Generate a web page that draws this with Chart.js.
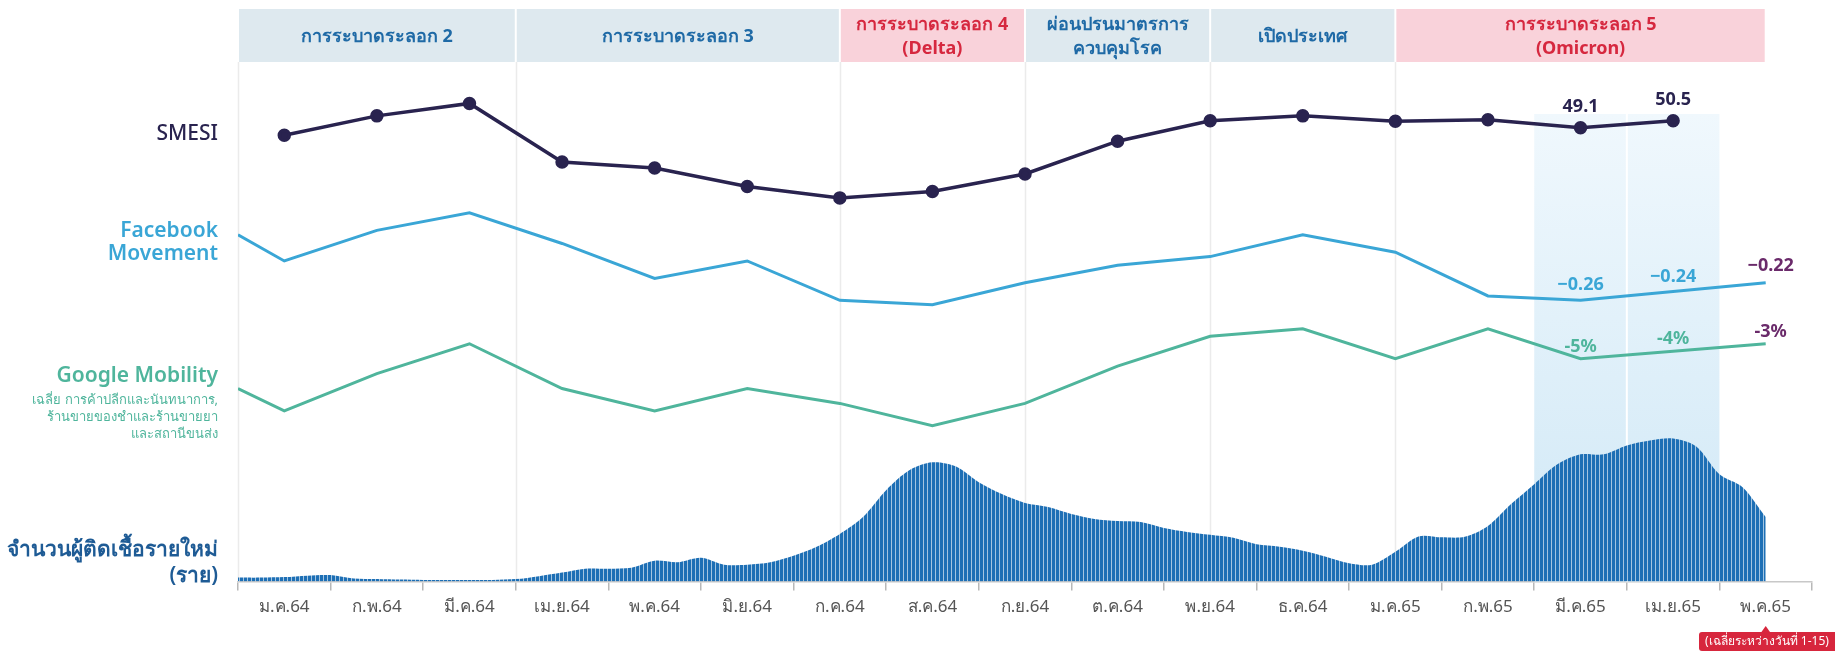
<!DOCTYPE html>
<html>
<head>
<meta charset="utf-8">
<script src="https://cdn.jsdelivr.net/npm/chart.js@4.4.1/dist/chart.umd.min.js"></script>
<style>
  html, body { margin: 0; padding: 0; background: #fff; }
  #wrap { width: 1835px; height: 651px; }
</style>
</head>
<body>
<div id="wrap"><canvas id="chart" width="1835" height="651"></canvas></div>
<script>
// ===== data =====
const MONTHS = ['ม.ค.64', 'ก.พ.64', 'มี.ค.64', 'เม.ย.64', 'พ.ค.64', 'มิ.ย.64', 'ก.ค.64', 'ส.ค.64', 'ก.ย.64',
    'ต.ค.64', 'พ.ย.64', 'ธ.ค.64', 'ม.ค.65', 'ก.พ.65', 'มี.ค.65', 'เม.ย.65', 'พ.ค.65'];

// SMESI, monthly (ม.ค.64 - เม.ย.65)
const SMESI = [47.6, 51.5, 54.0, 42.2, 41.0, 37.3, 35.0, 36.3, 39.8, 46.4, 50.5, 51.5, 50.4, 50.7, 49.1, 50.5];

// Facebook Movement, value at the start of ม.ค.64 then monthly (ม.ค.64 - พ.ค.65)
const FB_START = -0.11;
const FACEBOOK = [-0.17, -0.10, -0.06, -0.13, -0.21, -0.17, -0.26, -0.27, -0.22, -0.18, -0.16, -0.11,
    -0.15, -0.25, -0.26, -0.24, -0.22];

// Google Mobility (%), same layout as Facebook
const GM_START = -9;
const GOOGLE = [-12, -7, -3, -9, -12, -9, -11, -14, -11, -6, -2, -1, -5, -1, -5, -4, -3];

// new cases per day, sampled every quarter month from 1 ม.ค.64
const CASES_STEP = 0.25;
const CASES = [700, 700, 790, 1050, 1140, 530, 440, 350, 300, 300, 300, 300,
    440, 960, 1580, 2280, 2280, 2450, 3680, 3410, 4200, 2980, 2980, 3410,
    4550, 6130, 8400, 11380, 16100, 19600, 21000, 20300, 17500, 15400, 13830, 13130,
    11900, 11030, 10680, 10500, 9450, 8750, 8230, 7700, 6560, 6130, 5430, 4380,
    3240, 2980, 5250, 7960, 7790, 7880, 9800, 13650, 17150, 20650, 22400, 22400,
    23980, 24850, 25200, 23800, 18900, 16630, 11380];

// periods (month units from 1 ม.ค.64)
const PERIODS = [
    { from: 0, to: 3, text: ['การระบาดระลอก 2'], hot: false },
    { from: 3, to: 6.5, text: ['การระบาดระลอก 3'], hot: false },
    { from: 6.5, to: 8.5, text: ['การระบาดระลอก 4', '(Delta)'], hot: true },
    { from: 8.5, to: 10.5, text: ['ผ่อนปรนมาตรการ', 'ควบคุมโรค'], hot: false },
    { from: 10.5, to: 12.5, text: ['เปิดประเทศ'], hot: false },
    { from: 12.5, to: 16.5, text: ['การระบาดระลอก 5', '(Omicron)'], hot: true },
];
const SHADE_FROM = 14, SHADE_TO = 16;

const FONT = "'Noto Sans', 'DejaVu Sans', sans-serif";
const NAVY = '#29234f', FB_BLUE = '#3aa6d6', TEAL = '#4fb59c', CASE_BLUE = '#1d6fb5', PURPLE = '#6a2a6a';

const monthPts = (arr, start) => {
    const pts = arr.map((v, i) => ({ x: i + 0.5, y: v }));
    if (start !== undefined) pts.unshift({ x: 0, y: start });
    return pts;
};

function stripePattern(ctx) {
    const c = document.createElement('canvas');
    c.width = 4; c.height = 4;
    const p = c.getContext('2d');
    p.fillStyle = CASE_BLUE; p.fillRect(0, 0, 4, 4);
    p.fillStyle = 'rgba(255,255,255,0.6)'; p.fillRect(3, 0, 1, 4);
    return ctx.createPattern(c, 'repeat');
}

// ===== plugins =====
const backdrop = {
    id: 'backdrop',
    beforeDatasetsDraw(chart) {
        const { ctx, chartArea: a, scales: { x } } = chart;
        ctx.save();
        // omicron highlight
        const top = 114;
        const s0 = x.getPixelForValue(SHADE_FROM), s1 = x.getPixelForValue(SHADE_TO);
        const g = ctx.createLinearGradient(0, top, 0, a.bottom);
        g.addColorStop(0, '#f0f8fd');
        g.addColorStop(1, '#d0e8f6');
        ctx.fillStyle = g;
        ctx.fillRect(s0, top, s1 - s0, a.bottom - top);
        ctx.strokeStyle = '#ffffff'; ctx.lineWidth = 2;
        const sm = x.getPixelForValue((SHADE_FROM + SHADE_TO) / 2);
        ctx.beginPath(); ctx.moveTo(sm, top); ctx.lineTo(sm, a.bottom); ctx.stroke();

        // period separators
        ctx.strokeStyle = '#ebebeb'; ctx.lineWidth = 1.5;
        PERIODS.forEach(p => {
            const px = Math.round(x.getPixelForValue(p.from)) + 0.5;
            ctx.beginPath(); ctx.moveTo(px, 62); ctx.lineTo(px, a.bottom); ctx.stroke();
        });

        // header band
        ctx.textAlign = 'center'; ctx.textBaseline = 'middle';
        ctx.font = `bold 18px ${FONT}`;
        PERIODS.forEach(p => {
            const l = x.getPixelForValue(p.from) + 1, r = x.getPixelForValue(p.to) - 1;
            ctx.fillStyle = p.hot ? '#f9d2da' : '#dee9ef';
            ctx.fillRect(l, 9, r - l, 53);
            ctx.fillStyle = p.hot ? '#d6283f' : '#1f6aa6';
            const cx = (l + r) / 2;
            if (p.text.length === 1) ctx.fillText(p.text[0], cx, 37);
            else { ctx.fillText(p.text[0], cx, 25); ctx.fillText(p.text[1], cx, 49); }
        });
        ctx.restore();
    },
    afterDatasetsDraw(chart) {
        const { ctx, scales } = chart;
        const { x } = scales;
        ctx.save();
        ctx.textAlign = 'center'; ctx.textBaseline = 'middle';

        // value labels
        const tag = (axis, xv, yv, text, color, dy, dx = 0) => {
            ctx.fillStyle = color;
            ctx.fillText(text, x.getPixelForValue(xv) + dx, scales[axis].getPixelForValue(yv) + dy);
        };
        ctx.font = `bold 18px ${FONT}`;
        [14, 15].forEach(i => tag('ySmesi', i + 0.5, SMESI[i], SMESI[i].toFixed(1), NAVY, -21));
        [14, 15, 16].forEach(i => tag('yFb', i + 0.5, FACEBOOK[i], '−' + Math.abs(FACEBOOK[i]).toFixed(2),
            i === 16 ? PURPLE : FB_BLUE, i === 16 ? -17 : -15, i === 16 ? 5 : 0));
        [14, 15, 16].forEach(i => tag('yGm', i + 0.5, GOOGLE[i], '-' + Math.abs(GOOGLE[i]) + '%',
            i === 16 ? PURPLE : TEAL, -12, i === 16 ? 5 : 0));

        // series titles on the left
        ctx.textAlign = 'right';
        ctx.fillStyle = NAVY; ctx.font = `500 21px ${FONT}`;
        ctx.fillText('SMESI', 218, 134);
        ctx.fillStyle = FB_BLUE; ctx.font = `600 21px ${FONT}`;
        ctx.fillText('Facebook', 218, 231);
        ctx.fillText('Movement', 218, 254);
        ctx.fillStyle = TEAL; ctx.font = `600 21px ${FONT}`;
        ctx.fillText('Google Mobility', 218, 376);
        ctx.font = `13px ${FONT}`;
        ctx.fillText('เฉลี่ย การค้าปลีกและนันทนาการ,', 218, 400);
        ctx.fillText('ร้านขายของชำและร้านขายยา', 218, 417);
        ctx.fillText('และสถานีขนส่ง', 218, 434);
        ctx.fillStyle = '#1e5b95'; ctx.font = `600 21px ${FONT}`;
        ctx.fillText('จำนวนผู้ติดเชื้อรายใหม่', 218, 550);
        ctx.fillText('(ราย)', 218, 576);

        // note under the last month
        const nx = x.getPixelForValue(16.5);
        ctx.fillStyle = '#d7263d';
        ctx.beginPath(); ctx.moveTo(nx - 5, 633); ctx.lineTo(nx, 626); ctx.lineTo(nx + 5, 633); ctx.fill();
        ctx.beginPath(); ctx.roundRect(1699, 632, 150, 19, 3); ctx.fill();
        ctx.fillStyle = '#ffffff'; ctx.textAlign = 'center'; ctx.font = `12px ${FONT}`;
        ctx.fillText('(เฉลี่ยระหว่างวันที่ 1-15)', 1767, 642);
        ctx.restore();
    }
};

// ===== chart =====
const ctx = document.getElementById('chart').getContext('2d');
new Chart(ctx, {
    type: 'line',
    data: {
        datasets: [
            {
                label: 'SMESI', data: monthPts(SMESI), yAxisID: 'ySmesi', order: 1,
                borderColor: NAVY, backgroundColor: NAVY, borderWidth: 3.5, pointRadius: 5, pointHoverRadius: 5,
            },
            {
                label: 'Facebook Movement', data: monthPts(FACEBOOK, FB_START), yAxisID: 'yFb', order: 2,
                borderColor: FB_BLUE, borderWidth: 3, pointRadius: 0,
            },
            {
                label: 'Google Mobility', data: monthPts(GOOGLE, GM_START), yAxisID: 'yGm', order: 3,
                borderColor: TEAL, borderWidth: 3, pointRadius: 0,
            },
            {
                label: 'New cases', data: CASES.map((v, i) => ({ x: i * CASES_STEP, y: v })), yAxisID: 'yCases', order: 4,
                borderWidth: 0, pointRadius: 0, fill: 'origin', tension: 0.3,
                backgroundColor: stripePattern(ctx),
            },
        ]
    },
    options: {
        responsive: false,
        animation: false,
        devicePixelRatio: 1,
        layout: { padding: { left: 238, right: 23, top: 9, bottom: 28 } },
        plugins: { legend: { display: false }, tooltip: { enabled: false } },
        scales: {
            x: { type: 'linear', min: 0, max: 17, display: false },
            months: {
                type: 'category', labels: MONTHS, offset: true, position: 'bottom',
                grid: { offset: true, drawOnChartArea: false, tickLength: 9, color: '#b8b8b8', lineWidth: 1.5 },
                border: { color: '#c8c8c8', width: 1.5 },
                ticks: { color: '#555', font: { family: FONT, size: 17 }, padding: 6, maxRotation: 0, autoSkip: false },
            },
            ySmesi: { display: false, min: -42.2, max: 73.0 },
            yFb: { display: false, min: -0.903, max: 0.406 },
            yGm: { display: false, min: -34.9, max: 41.9 },
            yCases: { display: false, min: 0, max: 100800 },
        }
    },
    plugins: [backdrop]
});
</script>
</body>
</html>
